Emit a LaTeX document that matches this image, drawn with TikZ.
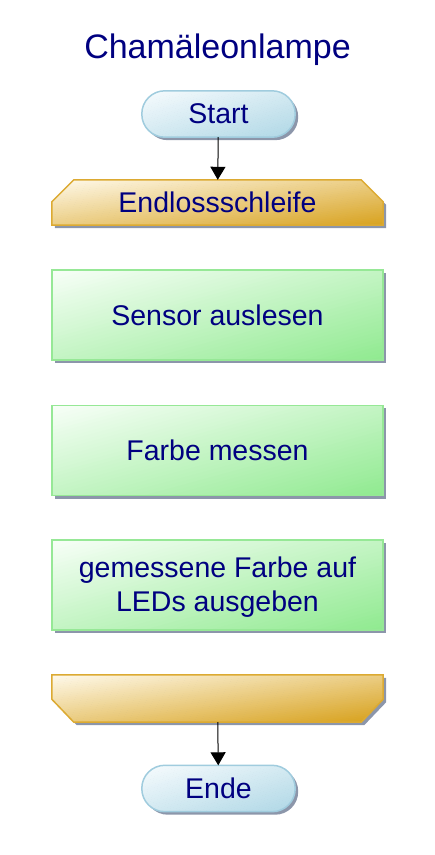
\documentclass[tikz,border=0pt]{standalone}
\usepackage{fontspec}
\setmainfont{Liberation Sans}
\usetikzlibrary{arrows.meta,shadows,backgrounds}
\definecolor{txt}{RGB}{0,0,128}
\definecolor{blueL}{RGB}{248,252,254}
\definecolor{blueD}{RGB}{176,216,230}
\definecolor{blueB}{RGB}{160,204,222}
\definecolor{goldL}{RGB}{255,250,236}
\definecolor{goldD}{RGB}{216,162,30}
\definecolor{goldB}{RGB}{220,170,50}
\definecolor{greenL}{RGB}{248,255,248}
\definecolor{greenD}{RGB}{144,234,144}
\definecolor{greenB}{RGB}{150,232,150}
\definecolor{shadc}{RGB}{140,150,170}
\newcommand\bodyfnt{\fontsize{28.5}{34}\selectfont}
\newcommand\titlefnt{\fontsize{34}{40}\selectfont}
\begin{document}
\begin{tikzpicture}[x=1pt,y=-1pt,
  withshadow/.style={drop shadow={shadow xshift=3pt,shadow yshift=-3pt,fill=shadc,opacity=1}},
  diagshade/.style n args={4}{path picture={
      \begin{scope}[shift={(path picture bounding box.north west)},x=#1pt,y=-#2pt]
        \foreach \k in {0,...,49}{
          \pgfmathsetmacro\sa{2*\k/50}
          \pgfmathsetmacro\sb{2*(\k+1)/50+0.01}
          \pgfmathtruncatemacro\pc{2*\k+1}
          \fill[#4!\pc!#3] (\sa+1,-1) -- (\sb+1,-1) -- (\sb-2,2) -- (\sa-2,2) -- cycle;
        }
      \end{scope}}},
  termnode/.style={rectangle, minimum width=153pt, minimum height=46pt, inner sep=0pt,
    text=txt, font=\bodyfnt},
  procnode/.style={rectangle, minimum width=331pt, minimum height=90pt, inner sep=0pt,
    text=txt, font=\bodyfnt, align=center},
  loopnode/.style={rectangle, minimum width=331pt, inner sep=0pt, text=txt, font=\bodyfnt},
  termshape/.style={rounded corners=23pt, draw=blueB, line width=1.5pt,
    diagshade={153}{46}{blueL}{blueD}, withshadow},
  procshape/.style={draw=greenB, line width=1.5pt, diagshade={331}{90}{greenL}{greenD}, withshadow},
  loopshape/.style={draw=goldB, line width=1.5pt, diagshade={331}{46}{goldL}{goldD}, withshadow},
  arrow/.style={draw=black, line width=1pt, -{Triangle[length=13pt,width=15pt]}}
]
\useasboundingbox (0,0) rectangle (435,855);

\node[font=\titlefnt, text=txt, anchor=base] (title) at (217.5,58) {Chamäleonlampe};

\node[termnode] (start) at (218.5,114) {Start};

\node[loopnode, minimum height=45pt] (lt) at (217.5,202.5) {Endlossschleife};

\node[procnode] (p1) at (217.5,315) {Sensor auslesen};
\node[procnode] (p2) at (217.5,450.5) {Farbe messen};
\node[procnode, text depth=1pt] (p3) at (217.5,585) {gemessene Farbe auf\\LEDs ausgeben};

\node[loopnode, minimum height=47pt] (lb) at (217.5,698.5) {};

\node[termnode] (ende) at (218.5,788.5) {Ende};

\begin{pgfonlayer}{background}
  \foreach \n in {start,ende}
    \path[termshape] (\n.north west) rectangle (\n.south east);
  \foreach \n in {p1,p2,p3}
    \path[procshape] (\n.north west) rectangle (\n.south east);
  \path[loopshape] ([yshift=-22pt]lt.north west) -- ([xshift=22pt]lt.north west)
     -- ([xshift=-22pt]lt.north east) -- ([yshift=-22pt]lt.north east)
     -- (lt.south east) -- (lt.south west) -- cycle;
  \path[loopshape] (lb.north west) -- (lb.north east)
     -- ([yshift=23pt]lb.south east) -- ([xshift=-22pt]lb.south east)
     -- ([xshift=22pt]lb.south west) -- ([yshift=23pt]lb.south west) -- cycle;
\end{pgfonlayer}

\draw[arrow] (start) -- (lt);
\draw[arrow] (lb) -- (ende);
\end{tikzpicture}
\end{document}
